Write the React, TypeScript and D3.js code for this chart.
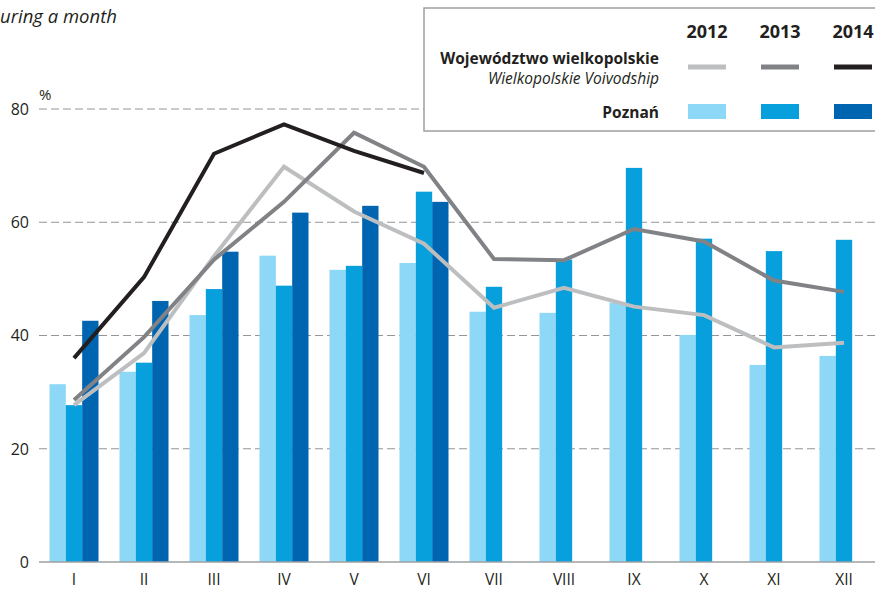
import { useEffect, useRef } from "react";
import * as d3 from "d3";

const months = ["I", "II", "III", "IV", "V", "VI", "VII", "VIII", "IX", "X", "XI", "XII"];
const years = ["2012", "2013", "2014"];

// Poznań (bars)
const poznan2012 = [31.4, 33.6, 43.6, 54.1, 51.6, 52.8, 44.2, 44.0, 45.8, 40.1, 34.8, 36.4];
const poznan2013 = [27.7, 35.2, 48.2, 48.8, 52.3, 65.4, 48.6, 53.4, 69.6, 57.1, 54.9, 56.9];
const poznan2014 = [42.6, 46.1, 54.8, 61.7, 62.9, 63.6, null, null, null, null, null, null];

// Województwo wielkopolskie (lines)
const region2012 = [27.7, 36.9, 54.0, 69.8, 61.9, 56.2, 44.9, 48.4, 45.1, 43.6, 37.9, 38.7];
const region2013 = [28.6, 39.7, 53.4, 63.6, 75.8, 69.8, 53.5, 53.3, 58.8, 56.6, 49.7, 47.7];
const region2014 = [36.0, 50.3, 72.1, 77.3, 72.6, 68.7, null, null, null, null, null, null];

const yTicks = [0, 20, 40, 60, 80];

const barColors = ["#8dd7f7", "#079fdc", "#0065b1"];
const lineColors = ["#bcbec0", "#808285", "#231f20"];
const font = "'Open Sans', sans-serif";

export default function App() {
  const ref = useRef<SVGSVGElement>(null);

  useEffect(() => {
    if (!ref.current) return;
    const el = ref.current;
    const width = 875;
    const height = 590;
    const left = 39;
    const right = 879;
    const top = 109;
    const bottom = 562;

    d3.select(el).selectAll("*").remove();
    const svg = d3.select(el).attr("width", width).attr("height", height);

    const x = d3.scaleBand().domain(months).range([left, right]).paddingInner(0.3).paddingOuter(0.15);
    const y = d3.scaleLinear().domain([0, 80]).range([bottom, top]);
    const xs = d3.scaleBand().domain(years).range([0, x.bandwidth()]);

    // Title (the visible part; the rest lies beyond the left edge)
    svg
      .append("text")
      .attr("x", 0)
      .attr("y", 23)
      .style("font-family", font)
      .style("font-style", "italic")
      .style("font-size", "18.5px")
      .style("fill", "#231f20")
      .text("uring a month");

    // Grid
    svg
      .append("g")
      .selectAll("line")
      .data(yTicks.filter((t) => t > 0))
      .join("line")
      .attr("x1", left)
      .attr("x2", width)
      .attr("y1", (d) => y(d))
      .attr("y2", (d) => y(d))
      .attr("stroke", "#939598")
      .attr("stroke-width", 1.2)
      .attr("stroke-dasharray", "8 4");

    // Y tick labels
    svg
      .append("g")
      .selectAll("text")
      .data(yTicks)
      .join("text")
      .attr("x", 29)
      .attr("y", (d) => y(d))
      .attr("dy", "0.36em")
      .attr("text-anchor", "end")
      .style("font-family", font)
      .style("font-size", "16px")
      .style("fill", "#231f20")
      .text((d) => String(d));

    svg
      .append("text")
      .attr("x", 39)
      .attr("y", 100)
      .style("font-family", font)
      .style("font-size", "15px")
      .style("fill", "#231f20")
      .text("%");

    // Bars
    const barSeries = [poznan2012, poznan2013, poznan2014];
    barSeries.forEach((vals, i) => {
      svg
        .append("g")
        .selectAll("rect")
        .data(months.map((m, j) => ({ m, v: vals[j] })).filter((d) => d.v != null))
        .join("rect")
        .attr("x", (d) => (x(d.m) ?? 0) + (xs(years[i]) ?? 0))
        .attr("width", xs.bandwidth())
        .attr("y", (d) => y(d.v as number))
        .attr("height", (d) => y(0) - y(d.v as number))
        .attr("fill", barColors[i]);
    });

    // Zero axis
    svg
      .append("line")
      .attr("x1", left)
      .attr("x2", width)
      .attr("y1", y(0))
      .attr("y2", y(0))
      .attr("stroke", "#9d9fa2")
      .attr("stroke-width", 1.5);

    // Lines
    const lineSeries = [region2012, region2013, region2014];
    const line = d3
      .line<{ m: string; v: number | null }>()
      .defined((d) => d.v != null)
      .x((d) => (x(d.m) ?? 0) + x.bandwidth() / 2)
      .y((d) => y(d.v as number));
    lineSeries.forEach((vals, i) => {
      svg
        .append("path")
        .datum(months.map((m, j) => ({ m, v: vals[j] })))
        .attr("d", line)
        .attr("fill", "none")
        .attr("stroke", lineColors[i])
        .attr("stroke-width", 4)
        .attr("stroke-linejoin", "miter");
    });

    // X labels
    svg
      .append("g")
      .selectAll("text")
      .data(months)
      .join("text")
      .attr("x", (d) => (x(d) ?? 0) + x.bandwidth() / 2)
      .attr("y", 585)
      .attr("text-anchor", "middle")
      .style("font-family", font)
      .style("font-size", "15.5px")
      .style("fill", "#231f20")
      .text((d) => d);

    // Legend
    const lg = svg.append("g");
    lg.append("rect")
      .attr("x", 424)
      .attr("y", 8)
      .attr("width", 470)
      .attr("height", 123)
      .attr("fill", "white")
      .attr("stroke", "#9d9fa2")
      .attr("stroke-width", 1.5);

    const legendX = [707, 780, 853];
    years.forEach((yr, i) => {
      lg.append("text")
        .attr("x", legendX[i])
        .attr("y", 38)
        .attr("text-anchor", "middle")
        .style("font-family", font)
        .style("font-weight", "bold")
        .style("font-size", "18px")
        .style("fill", "#231f20")
        .text(yr);
      lg.append("rect")
        .attr("x", legendX[i] - 19)
        .attr("y", 64.5)
        .attr("width", 38)
        .attr("height", 5)
        .attr("fill", lineColors[i]);
      lg.append("rect")
        .attr("x", legendX[i] - 19)
        .attr("y", 104)
        .attr("width", 38)
        .attr("height", 15)
        .attr("fill", barColors[i]);
    });

    const labels = [
      { t: "Województwo wielkopolskie", y: 64, w: "bold", s: "normal" },
      { t: "Wielkopolskie Voivodship", y: 84, w: "normal", s: "italic" },
      { t: "Poznań", y: 118, w: "bold", s: "normal" },
    ];
    labels.forEach((l) => {
      lg.append("text")
        .attr("x", 659)
        .attr("y", l.y)
        .attr("text-anchor", "end")
        .style("font-family", font)
        .style("font-weight", l.w)
        .style("font-style", l.s)
        .style("font-size", "15.5px")
        .style("fill", "#231f20")
        .text(l.t);
    });
  }, []);

  return <svg ref={ref} style={{ position: "absolute", left: 0, top: 0 }} />;
}
